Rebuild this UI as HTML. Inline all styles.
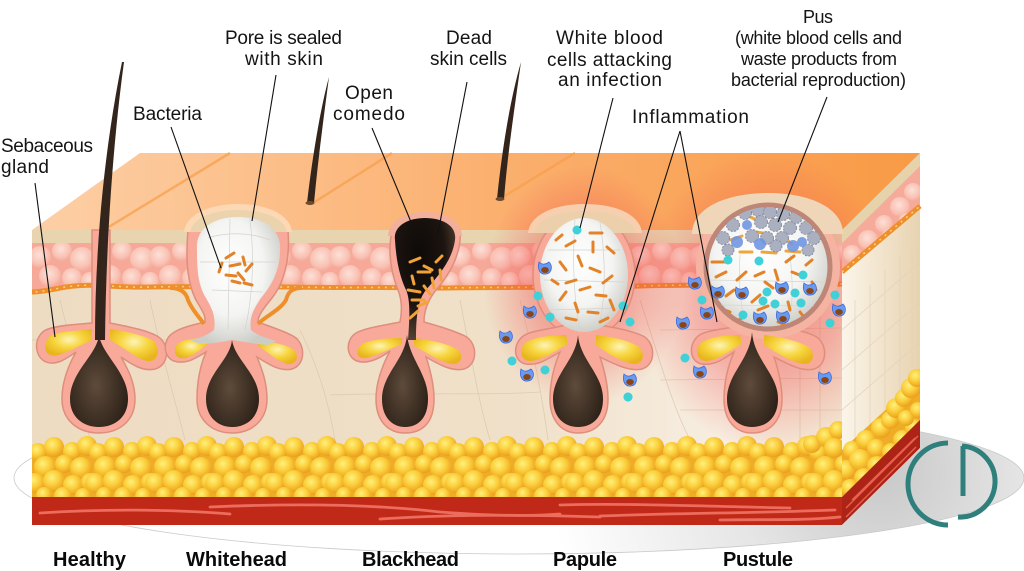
<!DOCTYPE html>
<html><head><meta charset="utf-8">
<style>
html,body{margin:0;padding:0;background:#fff;}
svg{display:block;}
text{font-family:"Liberation Sans",Arial,sans-serif;fill:#141414;}
.t{font-size:19px;}
.s{font-size:18px;}
.b{font-size:20px;font-weight:bold;fill:#0a0a0a;}
</style></head><body>
<svg width="1024" height="571" viewBox="0 0 1024 571" xmlns="http://www.w3.org/2000/svg">
<defs>
 <linearGradient id="topG" gradientUnits="userSpaceOnUse" x1="32" y1="0" x2="920" y2="0">
  <stop offset="0" stop-color="#fdcfa6"/><stop offset="0.5" stop-color="#fbb171"/><stop offset="1" stop-color="#f99a45"/>
 </linearGradient>
 <linearGradient id="dermG" gradientUnits="userSpaceOnUse" x1="32" y1="0" x2="842" y2="0">
  <stop offset="0" stop-color="#eedcc2"/><stop offset="0.6" stop-color="#f0e0c9"/><stop offset="0.85" stop-color="#f7eee1"/><stop offset="1" stop-color="#f2e4cf"/>
 </linearGradient>
 <linearGradient id="sideDerm" gradientUnits="userSpaceOnUse" x1="842" y1="0" x2="920" y2="0">
  <stop offset="0" stop-color="#fbf5ea"/><stop offset="1" stop-color="#e8d3b0"/>
 </linearGradient>
 <radialGradient id="bub" cx=".45" cy=".4" r=".6">
  <stop offset="0" stop-color="#fde0d7"/><stop offset=".7" stop-color="#f9c2b4"/><stop offset="1" stop-color="#f5ab9b"/>
 </radialGradient>
 <radialGradient id="fat" cx=".4" cy=".35" r=".65">
  <stop offset="0" stop-color="#fff07c"/><stop offset=".5" stop-color="#fbcf3c"/><stop offset="1" stop-color="#eba01e"/>
 </radialGradient>
 <radialGradient id="sac" cx=".45" cy=".4" r=".62">
  <stop offset="0" stop-color="#ffffff"/><stop offset=".6" stop-color="#f4f4f2"/><stop offset="1" stop-color="#cdcdc8"/>
 </radialGradient>
 <radialGradient id="bulbG" cx=".45" cy=".55" r=".6">
  <stop offset="0" stop-color="#5e4b3b"/><stop offset="1" stop-color="#2b1f16"/>
 </radialGradient>
 <radialGradient id="plugG" cx=".4" cy=".3" r=".7">
  <stop offset="0" stop-color="#0d0a08"/><stop offset=".6" stop-color="#1c1410"/><stop offset="1" stop-color="#55402f"/>
 </radialGradient>
 <radialGradient id="glandG" cx=".5" cy=".4" r=".6">
  <stop offset="0" stop-color="#fdf4b8"/><stop offset=".5" stop-color="#f7d63f"/><stop offset="1" stop-color="#e8b51e"/>
 </radialGradient>
 <radialGradient id="glow" cx=".5" cy=".5" r=".5">
  <stop offset="0" stop-color="#f03c3c" stop-opacity=".6"/><stop offset=".55" stop-color="#f04646" stop-opacity=".35"/><stop offset="1" stop-color="#f05050" stop-opacity="0"/>
 </radialGradient>
 <radialGradient id="shadow" gradientUnits="userSpaceOnUse" cx="880" cy="470" r="330">
  <stop offset="0" stop-color="#c8c8c8"/><stop offset=".45" stop-color="#e6e6e6"/><stop offset="1" stop-color="#ffffff"/>
 </radialGradient>
 <clipPath id="fatClip"><rect x="32" y="410" width="810" height="87"/></clipPath>
 <clipPath id="pinkClip"><path d="M32,243 L842,243 L842,284 C800,286 700,284 640,286 C560,288 500,287 440,288 C380,287 330,288 290,287 C250,287 200,286 150,287 C110,288 90,282 60,288 C45,291 38,292 32,292 Z"/></clipPath>
 <clipPath id="blockClip"><polygon points="32,230 140,153 920,153 842,230 842,525 32,525"/></clipPath>
 <clipPath id="sideClip"><polygon points="842,230 920,153 920,448 842,525"/></clipPath>
 <clipPath id="sidePink"><polygon points="842,243 920,166 920,207 842,272"/></clipPath>
 <clipPath id="pusClip"><circle cx="768" cy="267" r="60"/></clipPath>
 <g id="pb" fill="url(#bub)">
  <circle cx="8" cy="257" r="11"/><circle cx="30" cy="251" r="10"/><circle cx="50" cy="259" r="12"/>
  <circle cx="18" cy="276" r="11"/><circle cx="40" cy="278" r="10"/><circle cx="58" cy="281" r="9"/>
 </g>
 <g id="fb" fill="url(#fat)">
  <circle cx="6" cy="452" r="9"/><circle cx="22" cy="447" r="10"/><circle cx="40" cy="451" r="9"/><circle cx="55" cy="446" r="10"/>
  <circle cx="13" cy="467" r="11"/><circle cx="32" cy="464" r="9"/><circle cx="49" cy="468" r="11"/>
  <circle cx="3" cy="483" r="10"/><circle cx="22" cy="481" r="11"/><circle cx="41" cy="485" r="10"/><circle cx="58" cy="482" r="9"/>
  <circle cx="12" cy="495" r="8"/><circle cx="31" cy="496" r="9"/><circle cx="51" cy="496" r="8"/>
 </g>
 <g id="w">
  <path d="M-6,-6 C-3,-3 0,-3 4,-6 C8,-2 7,5 1,6 C-5,7 -8,1 -6,-6 Z" fill="#6a9af0" stroke="#3d6cd8" stroke-width="0.8"/>
  <ellipse cx="0" cy="2" rx="3.8" ry="3" fill="#8a4516"/>
 </g>
</defs>

<!-- shadow ellipse -->
<ellipse cx="519" cy="478" rx="505" ry="76" fill="url(#shadow)" stroke="#c9c9c9" stroke-width="0.8"/>

<!-- side face -->
<polygon points="842,230 920,153 920,448 842,525" fill="url(#sideDerm)"/>
<g clip-path="url(#sideClip)" stroke="#e2d2bb" stroke-width="0.7" fill="none">
 <path d="M855,300 L855,480 M870,285 L870,470 M885,270 L885,455 M900,255 L900,440 M912,245 L912,430"/>
 <path d="M842,330 L920,262 M842,370 L920,302 M842,410 L920,342"/>
</g>
<polygon points="842,230 920,153 920,166 842,243" fill="#e6d2ab"/>
<polygon points="842,243 920,166 920,207 842,272" fill="#f6aa9a"/>
<g clip-path="url(#sidePink)" fill="url(#bub)">
 <circle cx="852" cy="254" r="9"/><circle cx="868" cy="240" r="10"/><circle cx="884" cy="224" r="9"/><circle cx="900" cy="207" r="10"/><circle cx="913" cy="192" r="9"/><circle cx="860" cy="264" r="7"/><circle cx="890" cy="236" r="8"/><circle cx="906" cy="220" r="7"/>
</g>
<path d="M842,272 L920,206" stroke="#ef8f2c" stroke-width="5"/>
<path d="M842,272 L920,206" stroke="#fbd27a" stroke-width="1.5" stroke-dasharray="2 5"/>
<g clip-path="url(#sideClip)">
 <polygon points="842,450 920,378 920,420 842,497" fill="#efac27"/>
 <g fill="url(#fat)">
  <circle cx="846" cy="470" r="10"/><circle cx="852" cy="450" r="9"/><circle cx="860" cy="460" r="11"/><circle cx="866" cy="440" r="10"/><circle cx="876" cy="448" r="9"/><circle cx="881" cy="428" r="10"/><circle cx="890" cy="420" r="9"/><circle cx="896" cy="408" r="10"/><circle cx="904" cy="398" r="9"/><circle cx="911" cy="388" r="10"/><circle cx="917" cy="378" r="9"/>
  <circle cx="850" cy="488" r="9"/><circle cx="864" cy="478" r="10"/><circle cx="877" cy="466" r="10"/><circle cx="891" cy="452" r="9"/><circle cx="903" cy="440" r="10"/><circle cx="914" cy="428" r="9"/><circle cx="906" cy="418" r="8"/><circle cx="918" cy="410" r="8"/>
 </g>
 <polygon points="842,497 920,420 920,448 842,525" fill="#ad2315"/>
 <path d="M846,508 L918,436 M846,517 L916,447 M852,500 L915,438" stroke="#e8604f" stroke-width="1.4" fill="none"/>
</g>

<!-- top surface -->
<polygon points="32,230 140,153 920,153 842,230" fill="url(#topG)"/>
<g stroke="#f7a04c" stroke-width="2.5" opacity=".75" fill="none">
 <path d="M107,228 L230,153"/><path d="M313,203 L392,153"/><path d="M503,197 L575,153"/>
</g>

<!-- front face -->
<rect x="32" y="230" width="810" height="295" fill="url(#dermG)"/>
<g stroke="#d9c7ab" stroke-width="0.8" fill="none" opacity=".8">
 <path d="M150,300 C160,350 175,400 185,440"/><path d="M300,330 C320,370 330,410 335,440"/><path d="M460,300 C470,350 478,400 490,440"/><path d="M640,300 C660,360 670,400 690,440"/>
 <path d="M32,340 C100,338 200,342 300,338"/><path d="M330,395 C400,392 480,396 540,392"/><path d="M60,300 C70,340 80,380 90,440"/>
 <path d="M520,300 C530,340 540,380 548,440"/><path d="M800,300 L800,440 M820,300 L820,440 M660,330 L842,328 M660,380 L842,378 M680,410 L842,410"/>
</g>
<path d="M32,243 L842,243 L842,284 C800,286 700,284 640,286 C560,288 500,287 440,288 C380,287 330,288 290,287 C250,287 200,286 150,287 C110,288 90,282 60,288 C45,291 38,292 32,292 Z" fill="#f6a999"/>
<g clip-path="url(#pinkClip)">
 <use href="#pb" x="32"/><use href="#pb" x="92"/><use href="#pb" x="152"/><use href="#pb" x="212"/><use href="#pb" x="272"/><use href="#pb" x="332"/><use href="#pb" x="392"/><use href="#pb" x="452"/><use href="#pb" x="512"/><use href="#pb" x="572"/><use href="#pb" x="632"/><use href="#pb" x="692"/><use href="#pb" x="752"/><use href="#pb" x="812"/>
</g>
<path d="M842,284 C800,286 700,284 640,286 C560,288 500,287 440,288 C380,287 330,288 290,287 C250,287 200,286 150,287 C110,288 90,282 60,288 C45,291 38,292 32,292" stroke="#ef8f2c" stroke-width="5" fill="none"/>
<path d="M842,284 C800,286 700,284 640,286 C560,288 500,287 440,288 C380,287 330,288 290,287 C250,287 200,286 150,287 C110,288 90,282 60,288 C45,291 38,292 32,292" stroke="#fbd27a" stroke-width="1.5" stroke-dasharray="2 5" fill="none"/>
<rect x="32" y="230" width="810" height="13" fill="#e8d5b0"/>

<!-- fat -->
<rect x="32" y="450" width="810" height="47" fill="#efac27"/>
<g clip-path="url(#fatClip)">
 <use href="#fb" x="32"/><use href="#fb" x="92"/><use href="#fb" x="152"/><use href="#fb" x="212"/><use href="#fb" x="272"/><use href="#fb" x="332"/><use href="#fb" x="392"/><use href="#fb" x="452"/><use href="#fb" x="512"/><use href="#fb" x="572"/><use href="#fb" x="632"/><use href="#fb" x="692"/><use href="#fb" x="752"/><use href="#fb" x="812"/>
 <g fill="url(#fat)"><circle cx="812" cy="444" r="9"/><circle cx="826" cy="437" r="10"/><circle cx="838" cy="430" r="9"/><circle cx="834" cy="448" r="10"/></g>
</g>
<!-- muscle -->
<rect x="32" y="497" width="810" height="28" fill="#c02817"/>
<g stroke="#f4786a" stroke-width="2.8" stroke-linecap="round" fill="none" opacity=".85">
 <path d="M40,513 C100,509 170,509 230,514"/><path d="M210,507 C300,503 380,505 440,512 C480,515 520,517 560,514"/><path d="M380,519 C440,515 520,514 600,517"/><path d="M560,505 C620,503 700,506 790,508"/><path d="M600,516 C680,513 760,513 835,510"/><path d="M720,520 C760,519 800,521 840,517"/>
</g>

<!-- inflammation glows -->
<g clip-path="url(#blockClip)">
 <ellipse cx="584" cy="285" rx="100" ry="120" fill="url(#glow)"/>
 <ellipse cx="768" cy="300" rx="130" ry="150" fill="url(#glow)"/>
</g>

<!-- HEALTHY -->
<path d="M92,230 L92,323 C80,324 60,325 48,329 C34,334 33,354 44,361 C55,367 66,359 76,352 C68,366 62,382 62,399 C62,421 79,433 99,433 C119,433 135,421 135,399 C135,383 128,369 121,357 C131,364 143,372 155,369 C170,365 170,343 157,336 C144,329 124,326 110,323 L110,230 Z" fill="#f8a999" stroke="#dd8e7c" stroke-width="1.5"/>
<path d="M92,329 C78,331 60,331 52,335 C44,339 43,352 50,355 C58,358 70,350 92,340 Z" fill="url(#glandG)"/>
<path d="M110,329 C125,331 142,335 152,340 C160,345 160,359 151,361 C142,363 128,350 110,340 Z" fill="url(#glandG)"/>
<path d="M99,335 C97,355 70,372 70,399 C70,417 83,427 99,427 C115,427 128,417 128,399 C128,372 102,355 99,335 Z" fill="url(#bulbG)"/>
<path d="M95,340 C95,250 104,150 122,62 L124,62 C112,150 106,250 105,340 Z" fill="#33251b"/>

<!-- WHITEHEAD -->
<path d="M188,230 C186,255 186,280 196,300 C202,310 206,316 205,322 C192,325 180,328 173,333 C162,340 163,357 174,361 C186,365 196,358 206,352 C200,366 197,382 197,399 C197,421 213,433 232,433 C251,433 267,421 267,399 C267,383 262,369 257,357 C268,364 280,372 292,369 C306,365 306,343 293,336 C282,330 268,326 258,322 C258,315 264,308 272,298 C286,280 290,255 288,230 Z" fill="#f8a999" stroke="#dd8e7c" stroke-width="1.5"/>
<path d="M170,288 C180,288 186,292 188,300 C192,310 200,318 204,324" stroke="#ef8f2c" stroke-width="4" fill="none"/>
<path d="M302,288 C292,288 288,292 286,300 C280,310 266,316 258,324" stroke="#ef8f2c" stroke-width="4" fill="none"/>
<path d="M184,232 C186,214 210,204 238,204 C266,204 290,214 292,232 Z" fill="#fcd8b4"/>
<path d="M190,232 C193,218 212,210 238,210 C264,210 284,218 287,232 Z" fill="#ebd3ae"/>
<path d="M205,338 C192,338 180,340 176,346 C172,354 178,360 186,358 C195,355 202,348 208,344 Z" fill="url(#glandG)"/>
<path d="M258,340 C272,342 288,345 294,350 C300,357 296,365 288,364 C278,362 268,352 258,346 Z" fill="url(#glandG)"/>
<path d="M197,250 C195,228 214,217 238,217 C262,217 282,228 280,250 C280,270 272,285 261,298 C253,310 249,318 251,330 C257,335 266,338 276,341 L268,345 C256,344 244,342 232,340 C222,342 210,344 200,344 L190,340 C200,338 208,335 214,330 C216,318 213,310 206,298 C198,285 197,270 197,250 Z" fill="url(#sac)"/>
<g stroke="#d2d2d0" stroke-width=".7" fill="none"><path d="M208,238 C225,232 250,232 270,240 M200,262 L276,262 M212,290 L262,292 M230,219 L228,330 M250,220 C255,260 252,300 245,330"/></g>
<path d="M232,340 C230,360 206,374 206,399 C206,417 218,427 232,427 C247,427 259,417 259,399 C259,374 235,360 232,340 Z" fill="url(#bulbG)"/>
<g stroke="#e2832a" stroke-width="3" stroke-linecap="round">
 <path d="M219,272 L222,263 M226,258 L234,253 M230,266 L240,264 M243,257 L245,265 M226,275 L236,276 M238,273 L244,280 M232,281 L240,283 M246,271 L252,264 M244,283 L252,285"/>
</g>

<!-- BLACKHEAD -->
<path d="M392,230 C388,250 390,270 398,290 C402,300 402,312 400,322 C385,325 365,328 356,333 C345,340 346,357 357,361 C368,365 382,357 390,351 C382,366 376,382 376,399 C376,421 388,433 405,433 C424,433 434,421 434,399 C434,383 430,369 426,357 C438,364 452,372 464,369 C478,365 478,343 465,336 C452,330 438,326 424,322 C424,310 428,300 436,290 C452,272 462,250 460,230 Z" fill="#f8a999" stroke="#dd8e7c" stroke-width="1.5"/>
<path d="M388,236 C389,220 406,212 425,212 C445,212 461,220 462,236 Z" fill="#f2b09c"/>
<path d="M402,338 C385,338 368,340 361,345 C354,352 358,360 366,358 C378,355 392,348 402,344 Z" fill="url(#glandG)"/>
<path d="M414,338 C430,340 450,344 458,350 C465,357 460,365 452,364 C440,362 426,352 414,346 Z" fill="url(#glandG)"/>
<path d="M395,240 C393,226 408,218 425,218 C443,218 457,226 455,240 C452,262 436,278 426,290 C418,300 416,315 416,340 L408,340 C410,315 410,298 406,290 C399,275 396,258 395,240 Z" fill="url(#plugG)"/>
<path d="M407,335 C405,360 382,374 382,399 C382,417 392,427 405,427 C419,427 428,417 428,399 C428,374 410,360 407,335 Z" fill="url(#bulbG)"/>
<g stroke="#f2a23a" stroke-width="3" stroke-linecap="round">
 <path d="M410,262 L420,258 M424,266 L432,270 M436,262 L442,256 M412,276 L414,284 M418,272 L430,272 M432,278 L434,288 M440,270 L441,280 M408,290 L420,292 M424,286 L430,294 M412,300 L424,300 M418,306 L428,302 M410,318 L418,311"/>
</g>

<!-- PAPULE -->
<ellipse cx="584" cy="275" rx="51" ry="63" fill="#f8a999" stroke="#dd8e7c" stroke-width="1.5"/>
<path d="M565,325 C548,330 530,330 522,337 C512,346 514,362 526,364 C540,366 550,357 560,352 C554,366 550,382 550,399 C550,421 562,433 578,433 C596,433 608,421 608,399 C608,383 604,369 600,357 C614,364 630,372 642,369 C656,365 656,343 643,336 C630,330 612,327 598,325 Z" fill="#f8a999" stroke="#dd8e7c" stroke-width="1.5"/>
<path d="M528,233 C530,214 555,204 585,204 C615,204 640,214 642,233 Z" fill="#f7cfae"/>
<path d="M534,233 C537,219 558,211 585,211 C612,211 632,219 636,233 Z" fill="#ebd0ab"/>
<path d="M566,335 C548,335 530,338 524,344 C518,352 522,362 532,361 C545,359 556,350 568,344 Z" fill="url(#glandG)"/>
<path d="M596,335 C614,337 634,342 640,348 C646,356 642,365 634,364 C620,362 606,352 596,345 Z" fill="url(#glandG)"/>
<path d="M578,335 C576,360 553,374 553,399 C553,417 564,427 578,427 C593,427 603,417 603,399 C603,374 580,360 578,335 Z" fill="url(#bulbG)"/>
<ellipse cx="584" cy="275" rx="44" ry="57" fill="url(#sac)"/>
<g stroke="#d2d2d0" stroke-width=".7" fill="none"><path d="M548,250 L620,250 M544,280 L624,282 M550,310 L618,308 M575,220 C572,260 574,300 580,332 M600,222 C606,260 606,300 598,330"/></g>
<g stroke="#e2832a" stroke-width="3" stroke-linecap="round">
 <path d="M590,233 L602,233 M556,240 L562,235 M566,246 L575,241 M593,242 L593,252 M607,247 L614,253 M578,256 L582,266 M560,262 L566,270 M590,268 L600,272 M566,283 L576,280 M603,283 L612,276 M552,280 L558,284 M580,290 L590,287 M596,295 L606,296 M560,300 L566,292 M575,303 L578,312 M610,300 L614,310 M588,312 L598,313 M566,318 L576,320 M600,322 L608,318"/>
</g>

<!-- PUSTULE -->
<path d="M742,325 C722,330 704,330 697,337 C688,346 690,362 702,364 C716,366 726,357 734,352 C728,366 724,382 724,399 C724,421 736,433 752,433 C770,433 782,421 782,399 C782,383 778,369 774,357 C788,364 802,372 814,369 C828,365 828,343 815,336 C802,330 784,327 768,325 Z" fill="#f8a999" stroke="#dd8e7c" stroke-width="1.5"/>
<circle cx="768" cy="267" r="72" fill="#f5b4a2"/>
<path d="M692,234 C692,208 726,193 768,193 C810,193 843,208 843,234 Z" fill="#f0d6b8"/>
<path d="M740,335 C722,335 706,338 700,344 C694,352 698,362 708,361 C720,359 730,350 742,344 Z" fill="url(#glandG)"/>
<path d="M764,335 C782,337 802,342 810,348 C816,356 812,365 804,364 C790,362 776,352 764,345 Z" fill="url(#glandG)"/>
<path d="M752,332 C750,360 727,374 727,399 C727,417 738,427 752,427 C767,427 778,417 778,399 C778,374 754,360 752,332 Z" fill="url(#bulbG)"/>
<circle cx="768" cy="267" r="62" fill="url(#sac)" stroke="#bd8676" stroke-width="5"/>
<g clip-path="url(#pusClip)">
 <g stroke="#d4d4d0" stroke-width=".7" fill="none"><path d="M710,280 L826,282 M712,305 L824,306 M740,255 C738,290 742,310 746,330 M790,255 C794,290 792,310 788,330"/></g>
 <g stroke="#f0a53a" stroke-width="3" stroke-linecap="round">
  <path d="M745,214 L760,222 M770,212 L776,225 M790,218 L800,212 M756,232 L770,234 M730,240 L742,236 M782,236 L792,244 M740,252 L752,252 M762,252 L776,253 M786,251 L800,252"/>
 </g>
 <g fill="#aab0c0" stroke="#858da0" stroke-width="1" stroke-dasharray="2 1.5">
  <circle cx="745" cy="213" r="6.5"/><circle cx="758" cy="210" r="6.5"/><circle cx="770" cy="212" r="6.5"/><circle cx="783" cy="214" r="6.5"/><circle cx="796" cy="217" r="6.5"/>
  <circle cx="733" cy="225" r="6.5"/><circle cx="761" cy="222" r="6.5"/><circle cx="775" cy="225" r="6.5"/><circle cx="790" cy="228" r="6.5"/><circle cx="806" cy="228" r="6.5"/>
  <circle cx="723" cy="238" r="6.5"/><circle cx="752" cy="236" r="6.5"/><circle cx="767" cy="238" r="6.5"/><circle cx="782" cy="238" r="6.5"/><circle cx="814" cy="238" r="6.5"/>
  <circle cx="728" cy="250" r="6"/><circle cx="776" cy="246" r="6"/><circle cx="808" cy="250" r="6"/>
 </g>
 <g fill="#7196e2" opacity=".9"><circle cx="737" cy="242" r="6"/><circle cx="760" cy="244" r="6"/><circle cx="793" cy="246" r="6"/><circle cx="802" cy="242" r="5"/><circle cx="747" cy="225" r="5"/></g>
 <g stroke="#e2832a" stroke-width="3" stroke-linecap="round">
  <path d="M712,262 L724,262 M786,262 L794,256 M806,265 L812,260 M716,277 L726,272 M737,280 L746,272 M755,276 L764,272 M775,270 L778,280 M792,272 L802,276 M812,282 L816,290 M726,296 L734,290 M752,302 L760,295 M788,302 L790,310 M722,309 L730,312 M758,310 L768,306 M800,312 L806,320 M735,322 L742,318 M778,322 L786,325 M765,282 L773,288"/>
 </g>
</g>

<!-- white blood cells and dots -->
<g fill="#3fd0d8">
 <circle cx="577" cy="230" r="4.5"/><circle cx="538" cy="296" r="4.5"/><circle cx="550" cy="317" r="4.5"/><circle cx="623" cy="306" r="4.5"/><circle cx="630" cy="322" r="4.5"/><circle cx="512" cy="361" r="4.5"/><circle cx="545" cy="370" r="4.5"/><circle cx="628" cy="397" r="4.5"/>
 <circle cx="728" cy="260" r="4.5"/><circle cx="759" cy="261" r="4.5"/><circle cx="803" cy="275" r="4.5"/><circle cx="702" cy="300" r="4.5"/><circle cx="767" cy="292" r="4.5"/><circle cx="795" cy="293" r="4.5"/><circle cx="763" cy="301" r="4.5"/><circle cx="775" cy="304" r="4.5"/><circle cx="801" cy="303" r="4.5"/><circle cx="743" cy="315" r="4.5"/><circle cx="835" cy="295" r="4.5"/><circle cx="830" cy="323" r="4.5"/><circle cx="685" cy="358" r="4.5"/><circle cx="628" cy="397" r="4.5"/>
</g>
<use href="#w" x="545" y="268"/><use href="#w" x="530" y="312"/><use href="#w" x="506" y="337"/><use href="#w" x="527" y="375"/><use href="#w" x="630" y="380"/>
<use href="#w" x="695" y="283"/><use href="#w" x="718" y="292"/><use href="#w" x="742" y="293"/><use href="#w" x="782" y="288"/><use href="#w" x="810" y="289"/><use href="#w" x="707" y="313"/><use href="#w" x="760" y="318"/><use href="#w" x="783" y="317"/><use href="#w" x="839" y="310"/><use href="#w" x="683" y="323"/><use href="#w" x="700" y="372"/><use href="#w" x="825" y="378"/>

<!-- hairs above surface -->
<path d="M307,203 C312,160 320,110 329,77 C324,115 318,160 314,203 Z" fill="#33251b"/>
<ellipse cx="310" cy="203" rx="4.5" ry="2" fill="#6b4b30"/>
<path d="M497,199 C502,150 510,100 521,62 C515,105 508,150 504,199 Z" fill="#33251b"/>
<ellipse cx="500" cy="199" rx="4.5" ry="2" fill="#6b4b30"/>

<!-- leader lines -->
<g stroke="#111" stroke-width="1.1" fill="none">
 <path d="M35,183 L55,337"/><path d="M171,127 L221,268"/><path d="M276,75 L252,221"/><path d="M372,128 L411,222"/><path d="M467,82 L437,238"/><path d="M613,98 L580,228"/><path d="M680,131 L620,322"/><path d="M680,131 L717,322"/><path d="M827,97 L778,222"/>
</g>

<!-- labels -->
<text class="t" x="1" y="152" textLength="92">Sebaceous</text>
<text class="t" x="1" y="173" textLength="48">gland</text>
<text class="t" x="133" y="120" textLength="69">Bacteria</text>
<text class="t" x="225" y="44" textLength="117">Pore is sealed</text>
<text class="t" x="245" y="65" textLength="78">with skin</text>
<text class="t" x="345" y="99" textLength="48">Open</text>
<text class="t" x="333" y="120" textLength="72">comedo</text>
<text class="t" x="446" y="44" textLength="46">Dead</text>
<text class="t" x="430" y="65" textLength="77">skin cells</text>
<text class="t" x="556" y="44" textLength="107">White blood</text>
<text class="t" x="547" y="66" textLength="125">cells attacking</text>
<text class="t" x="558" y="86" textLength="104">an infection</text>
<text class="t" x="632" y="123" textLength="117">Inflammation</text>
<text class="s" x="803" y="23" textLength="30">Pus</text>
<text class="s" x="735" y="44" textLength="167">(white blood cells and</text>
<text class="s" x="741" y="65" textLength="156">waste products from</text>
<text class="s" x="731" y="86" textLength="175">bacterial reproduction)</text>

<text class="b" x="53" y="566" textLength="73">Healthy</text>
<text class="b" x="186" y="566" textLength="101">Whitehead</text>
<text class="b" x="362" y="566" textLength="97">Blackhead</text>
<text class="b" x="553" y="566" textLength="64">Papule</text>
<text class="b" x="723" y="566" textLength="70">Pustule</text>

<!-- logo -->
<g stroke="#2f7f7d" stroke-width="5" fill="none">
 <path d="M948,443 A40,41 0 0 0 948,525"/>
 <path d="M963,446 L963,496"/>
 <path d="M962,446 A35,35.5 0 0 1 958,517"/>
</g>
</svg>
</body></html>
